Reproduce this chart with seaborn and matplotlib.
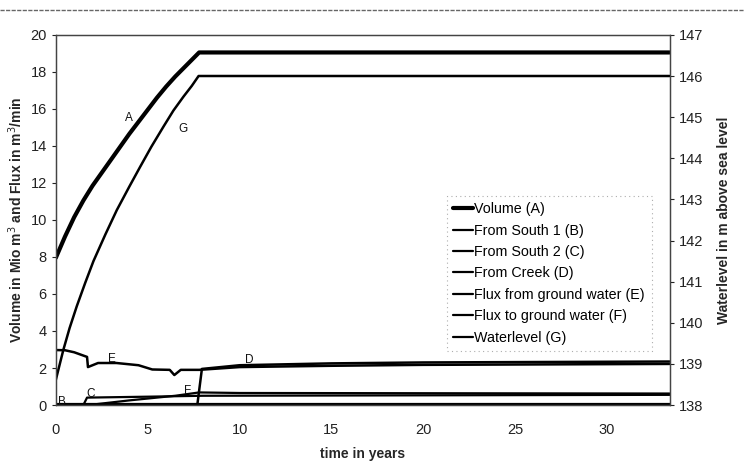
import numpy as np
import pandas as pd
import matplotlib
matplotlib.use("Agg")
import matplotlib.pyplot as plt
import seaborn as sns
from matplotlib.lines import Line2D

sns.set_theme(style="white")
plt.rcParams['font.family'] = ['Liberation Sans', 'DejaVu Sans']

# ---- data ----
t_A = [0, 0.5, 1, 1.5, 2, 2.5, 3, 3.5, 4, 4.5, 5, 5.5, 6, 6.5, 7, 7.5, 7.8, 33.4]
v_A = [7.95, 9.1, 10.15, 11.05, 11.85, 12.55, 13.25, 13.95, 14.65, 15.3, 15.95, 16.6,
       17.2, 17.75, 18.25, 18.75, 19.05, 19.05]                                # Volume (A)

t_B = [0, 33.4]
v_B = [0.03, 0.03]                                                             # From South 1 (B)

t_C = [0, 1.5, 1.7, 5, 8, 33.4]
v_C = [0, 0, 0.4, 0.45, 0.5, 0.55]                                             # From South 2 (C)

t_D = [0, 7.7, 7.95, 10, 15, 20, 33.4]
v_D = [0, 0, 1.95, 2.15, 2.25, 2.3, 2.35]                                      # From Creek (D)

t_E = [0, 0.5, 1.0, 1.7, 1.75, 2.3, 3.3, 4.5, 5.25, 6.2, 6.45, 6.8, 7.8, 10, 15, 20, 33.4]
v_E = [2.97, 2.96, 2.85, 2.6, 2.05, 2.27, 2.27, 2.15, 1.92, 1.9, 1.62, 1.9, 1.9,
       2.05, 2.12, 2.17, 2.22]                                                 # Flux from ground water (E)

t_F = [0, 1.8, 4, 6.5, 7.8, 10, 33.4]
v_F = [0, 0, 0.25, 0.5, 0.68, 0.65, 0.62]                                      # Flux to ground water (F)

t_G = [0, 0.41, 0.75, 1.14, 1.6, 2.05, 2.7, 3.32, 4.0, 4.6, 5.2, 5.86, 6.4, 6.95,
       7.4, 7.77, 33.4]
v_G = [138.61, 139.34, 139.87, 140.40, 140.97, 141.50, 142.15, 142.74, 143.31,
       143.80, 144.28, 144.77, 145.16, 145.50, 145.76, 146.00, 146.00]         # Waterlevel (G)

labels = ["Volume (A)", "From South 1 (B)", "From South 2 (C)", "From Creek (D)",
          "Flux from ground water (E)", "Flux to ground water (F)", "Waterlevel (G)"]
letters = ["A", "B", "C", "D", "E", "F", "G"]
letter_pos_t = [4.0, 0.35, 1.9, 10.5, 3.05, 7.15, 6.9]
letter_pos_v = [15.5, 0.15, 0.6, 2.45, 2.5, 0.75, 14.9]

# ---- figure ----
fig = plt.figure(figsize=(7.44, 4.65), dpi=100)
ax = fig.add_axes([0.075, 0.129, 0.825, 0.796])
ax2 = ax.twinx()

left_series = [(t_A, v_A, 3.0), (t_B, v_B, 1.6), (t_C, v_C, 1.6), (t_D, v_D, 1.8),
               (t_E, v_E, 1.8), (t_F, v_F, 1.6)]
for (tt, vv, lw), lab in zip(left_series, labels[:6]):
    df = pd.DataFrame({"t": tt, "v": vv})
    sns.lineplot(data=df, x="t", y="v", ax=ax, color="black", lw=lw,
                 estimator=None, sort=False, legend=False)

dfG = pd.DataFrame({"t": t_G, "v": v_G})
sns.lineplot(data=dfG, x="t", y="v", ax=ax2, color="black", lw=1.8,
             estimator=None, sort=False, legend=False)

ax.set_xlim(0, 33.4)
ax.set_ylim(0, 20)
ax2.set_ylim(138, 147)
ax.set_xticks(range(0, 31, 5))
ax.set_yticks(range(0, 21, 2))
ax2.set_yticks(range(138, 148))

for a in (ax, ax2):
    a.tick_params(axis="both", labelsize=10.5, colors="#222222", length=3,
                  direction="out", width=0.8)
    for s in a.spines.values():
        s.set_color("#444444")
        s.set_linewidth(0.9)
ax.tick_params(axis="x", pad=10)

ax.set_xlabel("time in years", fontsize=10, fontweight="bold", labelpad=7)
ax.set_ylabel("Volume in Mio m$^3$ and Flux in m$^3$/min", fontsize=10,
              fontweight="bold", labelpad=4)
ax2.set_ylabel("Waterlevel in m above sea level", fontsize=10, fontweight="bold",
               labelpad=10)

# curve letters
for L, tx, vy in zip(letters, letter_pos_t, letter_pos_v):
    ax.text(tx, vy, L, fontsize=8.5, ha="center", va="center", color="#111111")

# legend
handles = [Line2D([], [], color="black", lw=3.0)] + \
          [Line2D([], [], color="black", lw=1.6) for _ in range(6)]
leg = ax.legend(handles, labels, loc="upper left", bbox_to_anchor=(0.625, 0.585),
                frameon=True, fontsize=10.3, handlelength=1.4, handletextpad=0.1,
                labelspacing=0.52, borderpad=0.45, fancybox=False)
for txt in leg.get_texts():
    txt.set_color("black")
leg.get_frame().set_edgecolor("#999999")
leg.get_frame().set_linestyle((0, (1, 3)))
leg.get_frame().set_linewidth(0.8)

# scan border line at top
fig.add_artist(Line2D([0, 1], [0.978, 0.978], transform=fig.transFigure,
                      color="#666666", lw=1.0, ls=(0, (3, 1))))

fig.savefig("out.png", dpi=100)
